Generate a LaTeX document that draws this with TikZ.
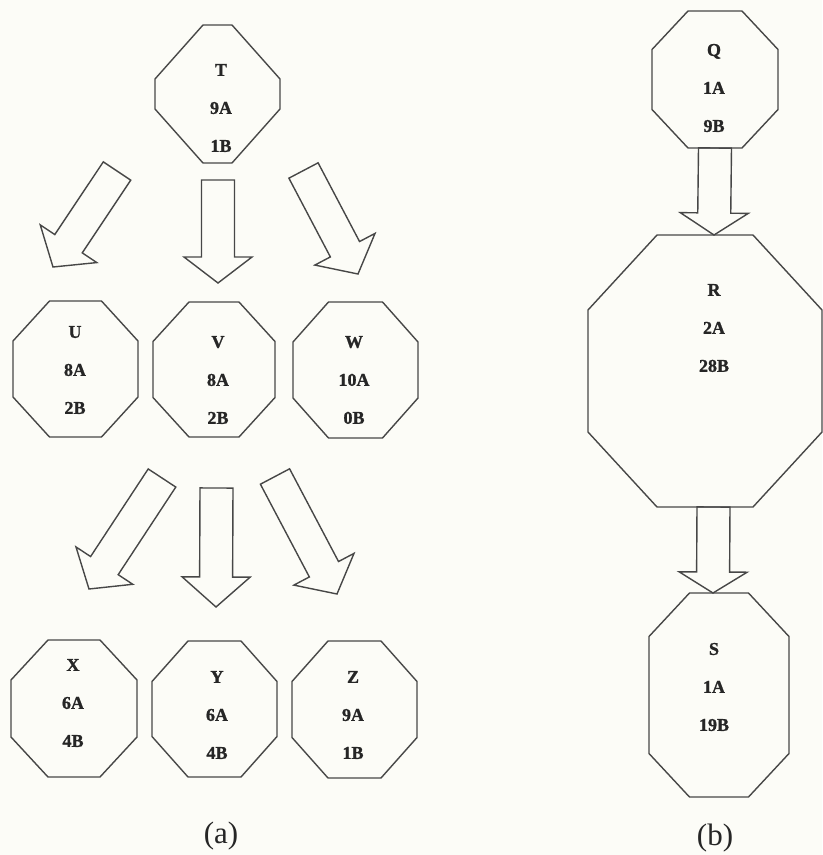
\documentclass[tikz,border=0pt]{standalone}
\usepackage{fontspec}
\setmainfont{Liberation Serif}
\newfontfamily\lblfont[FakeBold=1.2]{Liberation Serif Bold}
\usetikzlibrary{calc}
\definecolor{bg}{HTML}{FCFCF7}
\definecolor{ln}{HTML}{474747}
\definecolor{tx}{HTML}{262626}
\tikzset{
  oct/.style={draw=ln, line width=1.4pt, line join=miter},
  blk/.style={draw=ln, line width=1.4pt, line join=miter},
  lbl/.style={text=tx, align=center, inner sep=0pt, font=\lblfont\fontsize{18}{38}\selectfont},
  figcap/.style={text=tx, inner sep=0pt, font=\fontsize{31}{36}\selectfont}
}
\newcommand{\octo}[6]{%
  \draw[oct] ({#1-#5},{#2-#4}) -- ({#1+#5},{#2-#4}) -- ({#1+#3},{#2-#6}) -- ({#1+#3},{#2+#6}) -- ({#1+#5},{#2+#4}) -- ({#1-#5},{#2+#4}) -- ({#1-#3},{#2+#6}) -- ({#1-#3},{#2-#6}) -- cycle;}
\newcommand{\barrow}[3][28]{%
  \coordinate (hb) at ($(#3)!#1pt!(#2)$);
  \draw[blk] ($(#2)!16.5pt!90:(#3)$) -- ($(hb)!16.5pt!-90:(#2)$) -- ($(hb)!34pt!-90:(#2)$) -- (#3) -- ($(hb)!34pt!90:(#2)$) -- ($(hb)!16.5pt!90:(#2)$) -- ($(#2)!16.5pt!-90:(#3)$) -- cycle;}
\begin{document}
\begin{tikzpicture}[x=1pt,y=-1pt]
\path[fill=bg] (0,0) rectangle (822,855);
% octagons
\octo{217.5}{94}{62.5}{69}{14.5}{15}
\octo{75.5}{369}{62.5}{68}{26}{28}
\octo{214}{369.5}{61}{67.5}{25}{28}
\octo{355.5}{370}{62.5}{68}{27}{28}
\octo{74}{708.5}{63}{68.5}{26}{28.5}
\octo{214.5}{709}{62.5}{68}{26.5}{27.5}
\octo{354.5}{709.5}{62.5}{68.5}{26.5}{28}
\octo{715}{79.5}{63}{68.5}{27}{30}
\octo{705}{371}{117}{136}{48}{61}
\octo{719}{695}{70}{102}{29.5}{58.5}
% labels
\node[lbl] (T) at (221,108) {T\\9A\\1B};
\node[lbl] (U) at (75,370) {U\\8A\\2B};
\node[lbl] (V) at (218,380) {V\\8A\\2B};
\node[lbl] (W) at (354,380) {W\\10A\\0B};
\node[lbl] (X) at (73,703) {X\\6A\\4B};
\node[lbl] (Y) at (217,715) {Y\\6A\\4B};
\node[lbl] (Z) at (353,715) {Z\\9A\\1B};
\node[lbl] (Q) at (714,88) {Q\\1A\\9B};
\node[lbl] (R) at (714,328) {R\\2A\\28B};
\node[lbl] (S) at (714,687) {S\\1A\\19B};
\node[figcap] (capa) at (221,836) {(a)};
\node[figcap] (capb) at (715,838) {(b)};
% arrow endpoints
\coordinate (a1s) at (117,171); \coordinate (a1e) at (53,267);
\coordinate (a2s) at (218,180); \coordinate (a2e) at (218,283);
\coordinate (a3s) at (303.5,170.5); \coordinate (a3e) at (358,274);
\coordinate (b1s) at (162,478); \coordinate (b1e) at (89,589);
\coordinate (b2s) at (216.5,488); \coordinate (b2e) at (216,607);
\coordinate (b3s) at (275,476.5); \coordinate (b3e) at (337,594);
\coordinate (qrs) at (715,148); \coordinate (qre) at (714,235);
\coordinate (rss) at (713.5,507); \coordinate (rse) at (713,593);
\barrow{a1s}{a1e}
\barrow[26]{a2s}{a2e}
\barrow{a3s}{a3e}
\barrow{b1s}{b1e}
\barrow[30]{b2s}{b2e}
\barrow{b3s}{b3e}
\barrow[22]{qrs}{qre}
\barrow[21]{rss}{rse}
\end{tikzpicture}
\end{document}
